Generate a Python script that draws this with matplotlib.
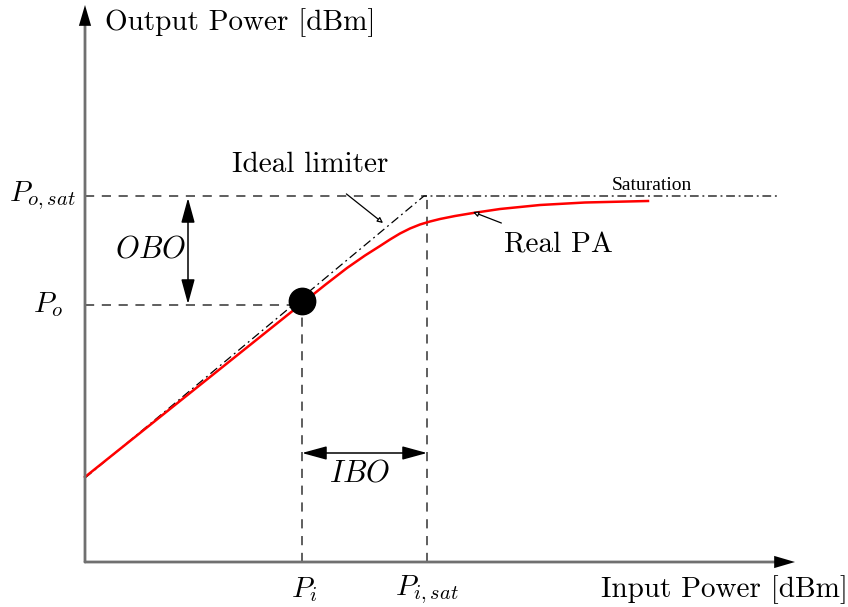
import matplotlib
matplotlib.use("Agg")
import matplotlib.pyplot as plt
import numpy as np

plt.rcParams['mathtext.fontset'] = 'cm'
plt.rcParams['font.family'] = ['cmr10', 'DejaVu Serif']

# input / output power, arbitrary units (origin = axes corner)
pin_real = [0, 65, 115, 165, 215, 240, 262, 280, 295, 305, 315, 325, 335, 345,
            355, 370, 388, 415, 455, 500, 563]
pout_real = [85, 137, 177, 217, 257, 277, 294, 306.5, 316, 322.5, 328.5, 333.5, 337.5,
             340.5, 343, 346, 349, 353, 357, 359.5, 361]

pin_ideal = [0, 339, 693]
pout_ideal = [84, 366, 366]

p_i, p_o = 217, 259
p_isat, p_osat = 342, 366
x_max, y_max = 710, 557

fig = plt.figure(figsize=(8.48, 6.07), dpi=100)
ax = fig.add_axes([0, 0, 1, 1])
ax.set_xlim(-85, 763)
ax.set_ylim(-45, 562)
ax.axis('off')

# axes with arrows
head = '-|>,head_length=0.75,head_width=0.22'
for tip in [(x_max, 0), (0, y_max)]:
    ax.annotate('', xy=tip, xytext=(0, 0),
                arrowprops=dict(arrowstyle='-', color='#707070', lw=2,
                                shrinkA=0, shrinkB=8))
ax.annotate('', xy=(x_max, 0), xytext=(x_max - 1, 0),
            arrowprops=dict(arrowstyle=head, color='black', lw=0, mutation_scale=20,
                            shrinkA=0, shrinkB=0))
ax.annotate('', xy=(0, y_max), xytext=(0, y_max - 1),
            arrowprops=dict(arrowstyle=head, color='black', lw=0, mutation_scale=20,
                            shrinkA=0, shrinkB=0))

dash = dict(color='#333333', lw=1.1, dashes=(6, 5))
ax.plot([0, p_isat], [p_osat, p_osat], **dash)
ax.plot([0, p_i], [p_o - 2, p_o - 2], **dash)
ax.plot([p_i, p_i], [0, p_o], **dash)
ax.plot([p_isat, p_isat], [0, p_osat], **dash)

# ideal limiter and real PA
ax.plot(pin_ideal, pout_ideal, color='black', lw=0.9, dashes=(7, 3, 1.5, 3))
ax.plot(pin_real, pout_real, color='red', lw=1.8)
ax.plot(p_i, p_o + 2, 'o', color='black', ms=19)

# OBO / IBO arrows
dbl = '<|-|>,head_length=0.95,head_width=0.26'
ax.annotate('', xy=(103, p_osat - 2), xytext=(103, p_o - 1),
            arrowprops=dict(arrowstyle=dbl, color='black', lw=1.1, mutation_scale=16,
                            shrinkA=0, shrinkB=0))
ax.annotate('', xy=(p_i, 109), xytext=(p_isat, 109),
            arrowprops=dict(arrowstyle=dbl, color='black', lw=1.1, mutation_scale=16,
                            shrinkA=0, shrinkB=0))

ax.text(65, 312, r'$OBO$', fontsize=22, ha='center', va='center')
ax.text(275, 88, r'$IBO$', fontsize=22, ha='center', va='center')

# pointer labels
ax.annotate('Ideal limiter', xy=(298, 339), xytext=(225, 397), fontsize=21,
            ha='center', va='center',
            arrowprops=dict(arrowstyle='-|>', fc='white', ec='black', lw=0.9,
                            mutation_scale=8, shrinkA=15, shrinkB=0))
ax.annotate('Real PA', xy=(388, 350), xytext=(473, 317), fontsize=21,
            ha='center', va='center',
            arrowprops=dict(arrowstyle='-|>', fc='white', ec='black', lw=0.9,
                            mutation_scale=8, shrinkA=12, shrinkB=0))
ax.text(567, 376, 'Saturation', fontsize=14, ha='center', va='center',
        family='Liberation Serif')

# axis titles and tick-like labels
ax.text(20, 539, 'Output Power [dBm]', fontsize=21, ha='left', va='center')
ax.text(763, -28, 'Input Power [dBm]', fontsize=21, ha='right', va='center')
ax.text(-9, p_osat, r'$P_{o,sat}$', fontsize=21, ha='right', va='center')
ax.text(-22, p_o - 2, r'$P_o$', fontsize=21, ha='right', va='center')
ax.text(p_i + 2, -28, r'$P_i$', fontsize=21, ha='center', va='center')
ax.text(p_isat, -28, r'$P_{i,sat}$', fontsize=21, ha='center', va='center')

fig.savefig('out.png', dpi=100)
